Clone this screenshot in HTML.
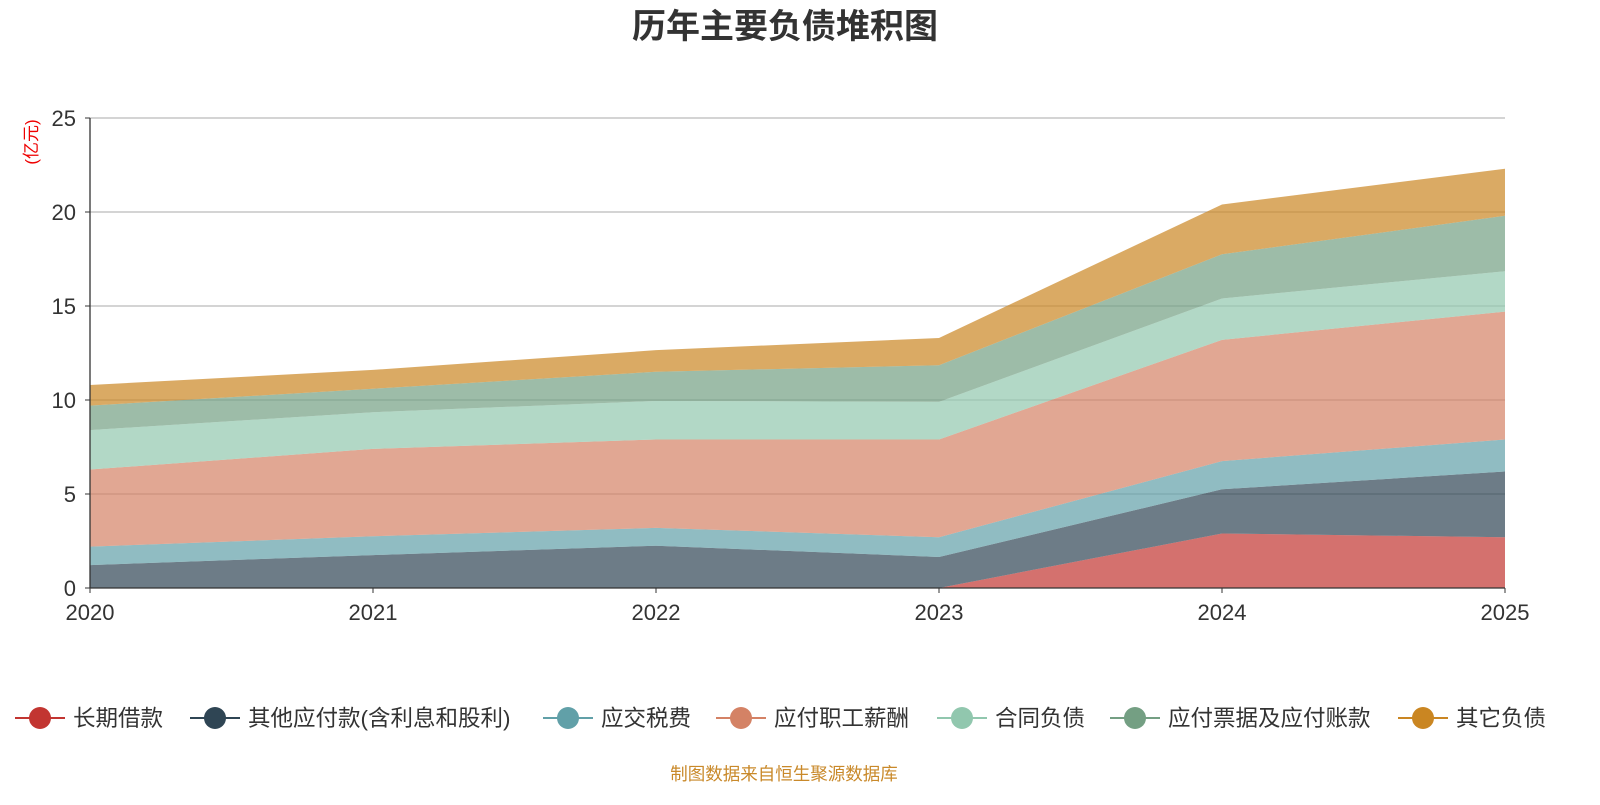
<!DOCTYPE html>
<html><head><meta charset="utf-8"><style>
body{margin:0;background:#fff;font-family:"Liberation Sans","Noto Sans CJK SC",sans-serif}
svg text{font-family:"Liberation Sans","Noto Sans CJK SC",sans-serif}
</style></head><body>
<svg id="c" width="1600" height="800">
<text x="785" y="38" text-anchor="middle" font-size="34" font-weight="bold" fill="#333">历年主要负债堆积图</text>
<text transform="translate(37,142) rotate(-90)" text-anchor="middle" font-size="17" fill="#e00">(亿元)</text>
<g id="grid"></g><g id="areas"></g><g id="axes"></g><g id="legend"></g>
<text x="784" y="780" text-anchor="middle" font-size="17.5" fill="#c9892a">制图数据来自恒生聚源数据库</text>
</svg>
<script>
const years=["2020","2021","2022","2023","2024","2025"];
const seriesNames=["长期借款","其他应付款(含利息和股利)","应交税费","应付职工薪酬","合同负债","应付票据及应付账款","其它负债"];
const colors=["#c23531","#2f4554","#61a0a8","#d48265","#91c7ae","#749f83","#ca8622"];
const longLoan=[0,0,0,0,2.9,2.7];
const otherPay=[1.22,1.75,2.25,1.65,2.35,3.5];
const taxes=[0.98,1.0,0.95,1.05,1.5,1.7];
const salary=[4.1,4.65,4.7,5.2,6.45,6.8];
const contract=[2.1,1.95,2.05,2.0,2.2,2.15];
const notes=[1.3,1.25,1.55,1.95,2.35,2.95];
const others=[1.1,1.0,1.15,1.45,2.65,2.5];
const yTicks=[0,5,10,15,20,25];
const series=[longLoan,otherPay,taxes,salary,contract,notes,others];
const NS="http://www.w3.org/2000/svg";
const x0=90,x1=1505,y0=588,y1=118;
const xs=i=>x0+(x1-x0)*i/(years.length-1);
const ys=v=>y0-(y0-y1)*v/25;
function mk(t,a,p){const e=document.createElementNS(NS,t);for(const k in a)e.setAttribute(k,a[k]);document.getElementById(p).appendChild(e);return e;}
yTicks.forEach(t=>{
 if(t>0){const l=mk('line',{x1:x0,x2:x1,y1:ys(t),y2:ys(t),stroke:'#bbb','stroke-width':1.3},'grid');
 
 }
 const tx=mk('text',{x:x0-14,y:ys(t)+8,'text-anchor':'end','font-size':22,fill:'#333'},'axes');tx.textContent=t;
 
 
 mk('line',{x1:x0-5,x2:x0,y1:ys(t),y2:ys(t),stroke:'#333'},'axes');
});
let base=years.map(()=>0);
series.forEach((s,k)=>{
 const top=base.map((b,i)=>b+s[i]);
 let d='M'+years.map((_,i)=>xs(i)+','+ys(top[i])).join('L');
 for(let i=years.length-1;i>=0;i--)d+='L'+xs(i)+','+ys(base[i]);
 const p=mk('path',{d:d+'Z',fill:colors[k],'fill-opacity':0.7,stroke:'none'},'areas');
 
 
 base=top;
});
mk('line',{x1:x0,x2:x0,y1:y1,y2:y0,stroke:'#333','stroke-width':1.3},'axes');
mk('line',{x1:x0,x2:x1,y1:y0,y2:y0,stroke:'#333','stroke-width':1.3},'axes');
years.forEach((y,i)=>{
 mk('line',{x1:xs(i),x2:xs(i),y1:y0,y2:y0+5,stroke:'#333'},'axes');
 const t=mk('text',{x:xs(i),y:y0+32,'text-anchor':'middle','font-size':22,fill:'#333'},'axes');t.textContent=y;
 
 
});
const lx=[15,190,543,716,937,1110,1398];
seriesNames.forEach((n,k)=>{
 const g=mk('g',{},'legend');
 
 
 const x=lx[k],y=718;
 const a=document.createElementNS(NS,'line');a.setAttribute('x1',x);a.setAttribute('x2',x+50);a.setAttribute('y1',y);a.setAttribute('y2',y);a.setAttribute('stroke',colors[k]);a.setAttribute('stroke-width',2);g.appendChild(a);
 const c=document.createElementNS(NS,'circle');c.setAttribute('cx',x+25);c.setAttribute('cy',y);c.setAttribute('r',11);c.setAttribute('fill',colors[k]);g.appendChild(c);
 const t=document.createElementNS(NS,'text');t.setAttribute('x',x+58);t.setAttribute('y',y+8);t.setAttribute('font-size',22.5);t.setAttribute('fill','#333');t.textContent=n;g.appendChild(t);
});
</script></body></html>
